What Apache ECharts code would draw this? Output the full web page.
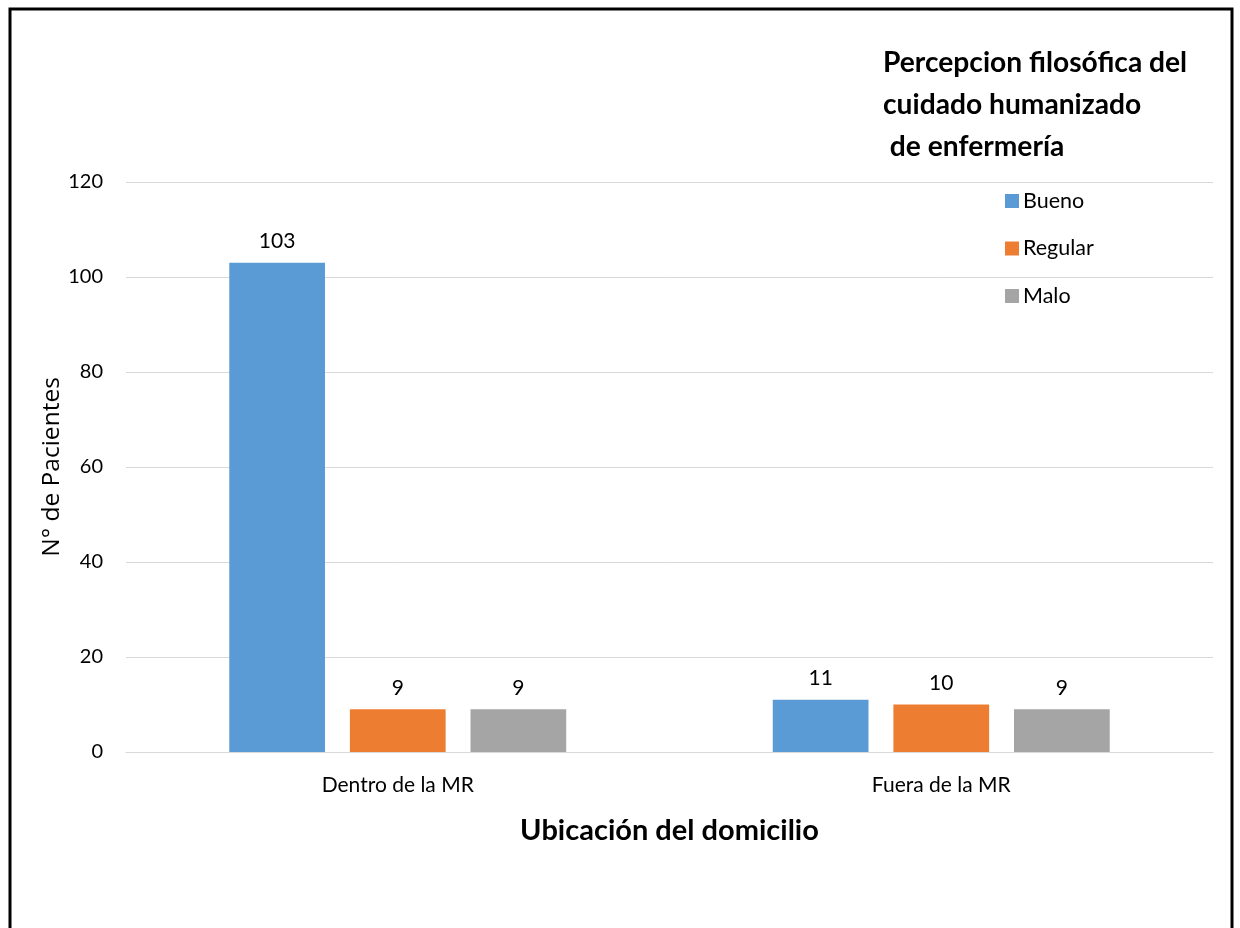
<!DOCTYPE html>
<html>
<head>
<meta charset="utf-8">
<script src="https://cdn.jsdelivr.net/npm/echarts@6/dist/echarts.min.js"></script>
<style>html,body{margin:0;padding:0;background:#fff}#c{width:1240px;height:928px}</style>
</head>
<body>
<div id="c"></div>
<script>
const categories = ['Dentro de la MR', 'Fuera de la MR'];
const seriesNames = ['Bueno', 'Regular', 'Malo'];
const bueno = [103, 11];
const regular = [9, 10];
const malo = [9, 9];
const colors = ['#5b9bd5', '#ed7d31', '#a5a5a5'];
const yTicks = { min: 0, max: 120, interval: 20 };

const font = 'Lato, "Open Sans", sans-serif';
const chart = echarts.init(document.getElementById('c'));
const values = [bueno, regular, malo];
chart.setOption({
  animation: false,
  backgroundColor: '#fff',
  textStyle: { fontFamily: font },
  title: {
    text: 'Percepcion filosófica del\ncuidado humanizado\n de enfermería',
    left: 878, top: 37,
    textStyle: { fontSize: 28.2, fontWeight: 'bold', color: '#000', lineHeight: 42, fontFamily: font }
  },
  legend: {
    orient: 'vertical', left: 1000, top: 185,
    itemWidth: 14, itemHeight: 14, itemGap: 25.5,
    icon: 'rect',
    textStyle: { fontSize: 21.5, color: '#000', fontFamily: font, padding: [0, 0, 0, -1] },
    data: seriesNames
  },
  grid: { left: 126, right: 27, top: 182, bottom: 176 },
  xAxis: {
    type: 'category', data: categories,
    axisTick: { show: false },
    axisLine: { lineStyle: { color: '#d9d9d9' } },
    axisLabel: { fontSize: 21, color: '#000', margin: 23, fontFamily: font },
    name: 'Ubicación del domicilio', nameLocation: 'middle', nameGap: 64,
    nameMoveOverlap: false,
    nameTextStyle: { fontSize: 29, fontWeight: 'bold', color: '#000', fontFamily: font }
  },
  yAxis: {
    type: 'value', min: yTicks.min, max: yTicks.max, interval: yTicks.interval,
    axisLine: { show: false }, axisTick: { show: false },
    splitLine: { lineStyle: { color: '#d9d9d9' } },
    axisLabel: { fontSize: 20, color: '#000', margin: 23, fontFamily: font },
    name: 'N° de Pacientes', nameLocation: 'middle', nameGap: 61,
    nameMoveOverlap: false,
    nameTextStyle: { fontSize: 24.5, color: '#000', fontFamily: '"Open Sans", sans-serif' }
  },
  series: seriesNames.map((n, i) => ({
    name: n, type: 'bar', data: values[i],
    itemStyle: { color: colors[i] },
    barGap: '26%', barCategoryGap: '38%',
    label: { show: true, position: 'top', distance: 11, fontSize: 21, color: '#000', fontFamily: font }
  })),
  graphic: [{
    type: 'rect', shape: { x: 10, y: 9, width: 1222, height: 940 },
    style: { fill: 'none', stroke: '#000', lineWidth: 3 }, z: 100
  }]
});
</script>
</body>
</html>
